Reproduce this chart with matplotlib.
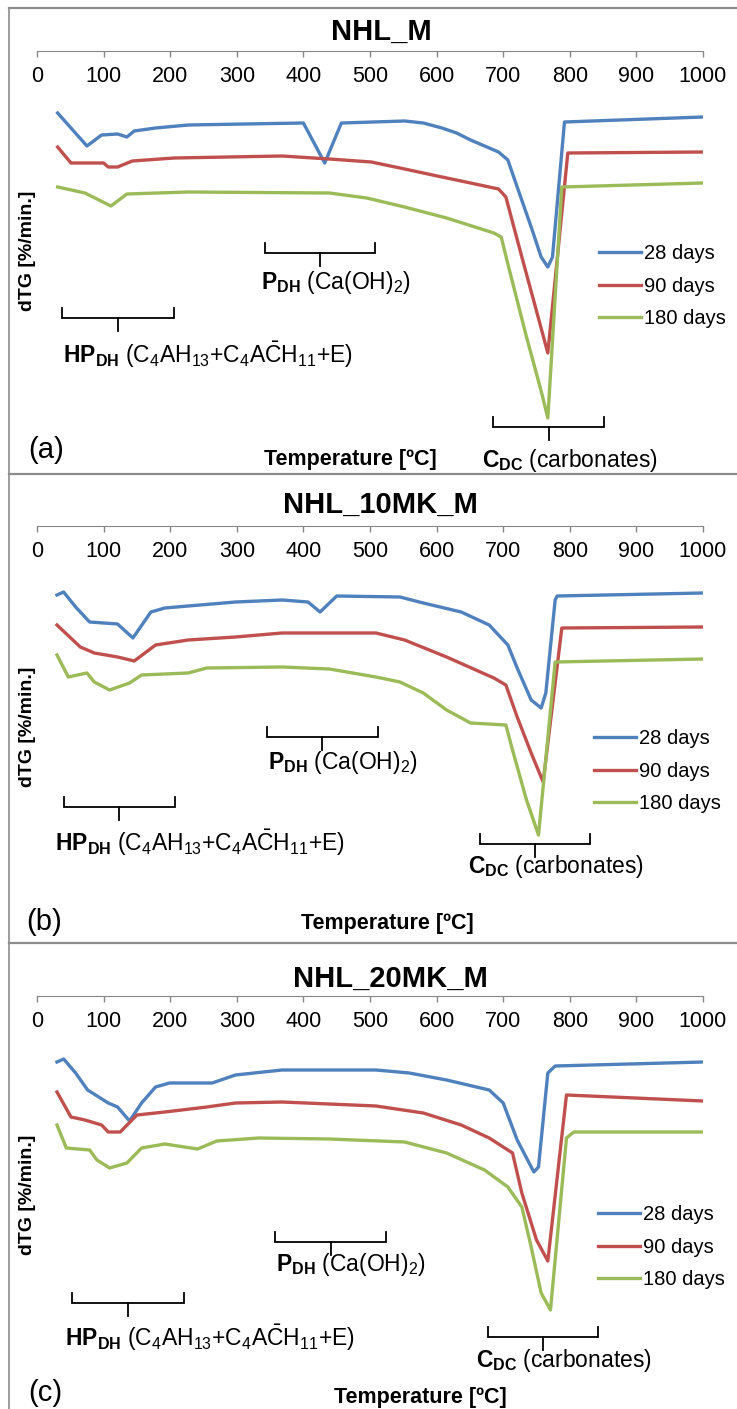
import matplotlib
matplotlib.use('Agg')
import matplotlib.pyplot as plt
from matplotlib.lines import Line2D

W, H = 737, 1409

plt.rcParams['font.family'] = ['Liberation Sans', 'DejaVu Sans']
plt.rcParams['mathtext.fontset'] = 'custom'
plt.rcParams['mathtext.rm'] = 'Liberation Sans'
plt.rcParams['mathtext.bf'] = 'Liberation Sans:bold'
plt.rcParams['mathtext.it'] = 'Liberation Sans:italic'

series_labels = ['28 days', '90 days', '180 days']
series_colors = ['#4F81BD', '#C0504D', '#9BBB59']
panel_titles = ['NHL_M', 'NHL_10MK_M', 'NHL_20MK_M']
panel_letters = ['(a)', '(b)', '(c)']
temp_ticks = list(range(0, 1001, 100))

# --- (a) NHL_M ---
a28_T = [31, 75, 97, 121, 135, 146, 178, 227, 312, 400, 432, 457, 552, 580, 608, 630, 651, 672, 693, 707, 721, 742,
         757, 767, 774, 792, 1000]
a28_v = [-0.62, -0.95, -0.84, -0.83, -0.86, -0.80, -0.77, -0.74, -0.73, -0.72, -1.12, -0.72, -0.70, -0.72, -0.77,
         -0.82, -0.89, -0.95, -1.01, -1.09, -1.36, -1.76, -2.06, -2.16, -2.06, -0.71, -0.66]
a90_T = [31, 51, 100, 107, 121, 143, 206, 368, 439, 502, 545, 601, 651, 693, 704, 728, 750, 767, 797, 1000]
a90_v = [-0.96, -1.12, -1.12, -1.16, -1.16, -1.10, -1.07, -1.05, -1.08, -1.11, -1.17, -1.25, -1.32, -1.38, -1.46,
         -2.06, -2.60, -3.02, -1.02, -1.01]
a180_T = [31, 72, 111, 135, 227, 439, 495, 552, 615, 686, 697, 707, 735, 757, 767, 788, 1000]
a180_v = [-1.36, -1.42, -1.55, -1.43, -1.41, -1.42, -1.47, -1.56, -1.67, -1.82, -1.86, -2.13, -2.86, -3.40, -3.67,
          -1.36, -1.32]

# --- (b) NHL_10MK_M ---
b28_T = [30, 40, 58, 79, 121, 144, 171, 192, 227, 298, 368, 407, 425, 450, 545, 580, 637, 679, 707, 721, 742, 757, 764,
         778, 781, 1000]
b28_v = [-0.69, -0.66, -0.81, -0.96, -0.98, -1.12, -0.86, -0.82, -0.80, -0.76, -0.74, -0.76, -0.86, -0.70, -0.71, -0.77,
         -0.86, -0.99, -1.19, -1.42, -1.74, -1.82, -1.67, -0.74, -0.70, -0.67]
b90_T = [30, 65, 86, 121, 146, 178, 227, 298, 368, 509, 552, 615, 686, 704, 721, 742, 760, 788, 1000]
b90_v = [-0.99, -1.21, -1.27, -1.31, -1.35, -1.19, -1.14, -1.11, -1.07, -1.07, -1.14, -1.31, -1.52, -1.59, -1.91, -2.27,
         -2.56, -1.02, -1.01]
b180_T = [30, 47, 75, 86, 109, 139, 157, 227, 255, 368, 439, 509, 545, 580, 615, 651, 704, 714, 735, 753, 778, 1000]
b180_v = [-1.29, -1.51, -1.47, -1.56, -1.64, -1.57, -1.49, -1.47, -1.42, -1.41, -1.43, -1.51, -1.56, -1.67, -1.84,
          -1.97, -1.99, -2.24, -2.74, -3.09, -1.36, -1.33]

# --- (c) NHL_20MK_M ---
c28_T = [30, 40, 58, 76, 107, 121, 139, 157, 178, 199, 263, 298, 368, 509, 559, 615, 679, 700, 721, 746, 753, 767, 778, 1000]
c28_v = [-0.66, -0.63, -0.77, -0.94, -1.07, -1.11, -1.25, -1.07, -0.91, -0.87, -0.87, -0.79, -0.74, -0.74, -0.77,
         -0.84, -0.94, -1.07, -1.44, -1.76, -1.71, -0.77, -0.70, -0.66]
c90_T = [30, 51, 72, 97, 107, 125, 150, 192, 255, 298, 368, 509, 580, 637, 679, 714, 728, 750, 767, 795, 1000]
c90_v = [-0.96, -1.21, -1.24, -1.29, -1.36, -1.36, -1.19, -1.16, -1.11, -1.07, -1.06, -1.10, -1.17, -1.29, -1.42,
         -1.57, -1.97, -2.44, -2.65, -0.99, -1.05]
c180_T = [30, 44, 79, 90, 109, 135, 157, 192, 241, 270, 333, 439, 552, 615, 672, 707, 728, 742, 757, 771, 795, 806, 1000]
c180_v = [-1.29, -1.52, -1.54, -1.64, -1.72, -1.67, -1.52, -1.48, -1.53, -1.45, -1.42, -1.43, -1.46, -1.57, -1.74,
          -1.91, -2.11, -2.51, -2.97, -3.14, -1.42, -1.36, -1.36]

# temperature ranges of the decomposition steps
hp_range = [(38, 205), (40, 207), (53, 220)]
p_range = [(342, 508), (345, 512), (358, 524)]
c_range = [(685, 852), (665, 831), (677, 843)]

hp_text = r"$\mathbf{HP}_{\mathbf{DH}}$ (C$_4$AH$_{13}$+C$_4$A$\bar{\mathrm{C}}$H$_{11}$+E)"
p_text = r"$\mathbf{P}_{\mathbf{DH}}$ (Ca(OH)$_2$)"
c_text = r"$\mathbf{C}_{\mathbf{DC}}$ (carbonates)"

panels = [
    ((a28_T, a28_v), (a90_T, a90_v), (a180_T, a180_v)),
    ((b28_T, b28_v), (b90_T, b90_v), (b180_T, b180_v)),
    ((c28_T, c28_v), (c90_T, c90_v), (c180_T, c180_v)),
]

# layout per panel, in figure pixels (from top-left)
layout = [
    dict(axis=51, title=(381, 40), hp=(63, 355, -2.67), p=(261, 283, -2.02), c=(482, 460, -3.76),
         xlab=(350, 460), letter=(28, 450), ylab=251, leg=(599, 244)),
    dict(axis=526, title=(380, 513), hp=(55, 843, -2.81), p=(268, 762, -2.11), c=(468, 867, -3.18),
         xlab=(387, 923), letter=(26, 922), ylab=727, leg=(594, 729)),
    dict(axis=996, title=(390, 987), hp=(65, 1338, -3.07), p=(276, 1265, -2.46), c=(476, 1361, -3.41),
         xlab=(420, 1398), letter=(28, 1393), ylab=1195, leg=(598, 1205)),
]


def fp(x, y):
    return x / W, 1 - y / H


def bracket(ax, t0, t1, y):
    tc = (t0 + t1) / 2
    kw = dict(color='black', lw=1.3, clip_on=False, solid_joinstyle='miter')
    ax.plot([t0, t0, t1, t1], [y + 0.1, y, y, y + 0.1], **kw)
    ax.plot([tc, tc], [y, y - 0.13], **kw)


fig = plt.figure(figsize=(W / 100, H / 100), dpi=100)

# chart-area borders
border = '#8c8c8c'
fig.add_artist(Line2D([9 / W, 9 / W], [0, 1 - 8 / H], color=border, lw=1.2, transform=fig.transFigure))
for yb in [8, 474, 943]:
    fig.add_artist(Line2D([9 / W, 1], [1 - yb / H] * 2, color=border, lw=1.6, transform=fig.transFigure))

for i, series in enumerate(panels):
    L = layout[i]
    top = L['axis']
    ax = fig.add_axes([37 / W, 1 - (top + 390) / H, 666 / W, 390 / H])
    ax.patch.set_alpha(0)
    for (T, v), col, lab in zip(series, series_colors, series_labels):
        ax.plot(T, v, color=col, lw=2.4, label=lab, solid_joinstyle='round')

    ax.set_xlim(0, 1000)
    ax.set_ylim(-3.9, 0)
    for s in ['top', 'left', 'right']:
        ax.spines[s].set_visible(False)
    ax.spines['bottom'].set_position(('data', 0))
    ax.spines['bottom'].set_color('#868686')
    ax.set_xticks(temp_ticks)
    ax.set_xticklabels([str(t) for t in temp_ticks])
    ax.tick_params(axis='x', direction='out', length=4.5, width=1, color='#868686', pad=6, labelsize=15.5)
    ax.set_yticks([])

    bracket(ax, *hp_range[i], L['hp'][2])
    bracket(ax, *p_range[i], L['p'][2])
    bracket(ax, *c_range[i], L['c'][2])

    fig.text(*fp(*L['hp'][:2]), hp_text, fontsize=16.5, ha='left', va='center')
    fig.text(*fp(*L['p'][:2]), p_text, fontsize=16.5, ha='left', va='center')
    fig.text(*fp(*L['c'][:2]), c_text, fontsize=16.5, ha='left', va='center')

    fig.text(*fp(*L['title']), panel_titles[i], fontsize=21, fontweight='bold', ha='center', va='baseline')
    fig.text(*fp(*L['xlab']), 'Temperature [ºC]', fontsize=15.5, fontweight='bold', ha='center', va='center')
    fig.text(*fp(*L['letter']), panel_letters[i], fontsize=21, ha='left', va='center')
    fig.text(*fp(28, L['ylab']), 'dTG [%/min.]', fontsize=14, fontweight='bold', rotation=90,
             ha='center', va='center')

    ax.legend(loc='upper left', bbox_to_anchor=fp(*L['leg']), bbox_transform=fig.transFigure,
              frameon=False, fontsize=14.5, handlelength=2.1, handletextpad=0.15, labelspacing=0.68,
              borderpad=0, borderaxespad=0)

fig.savefig('out.png', dpi=100)
